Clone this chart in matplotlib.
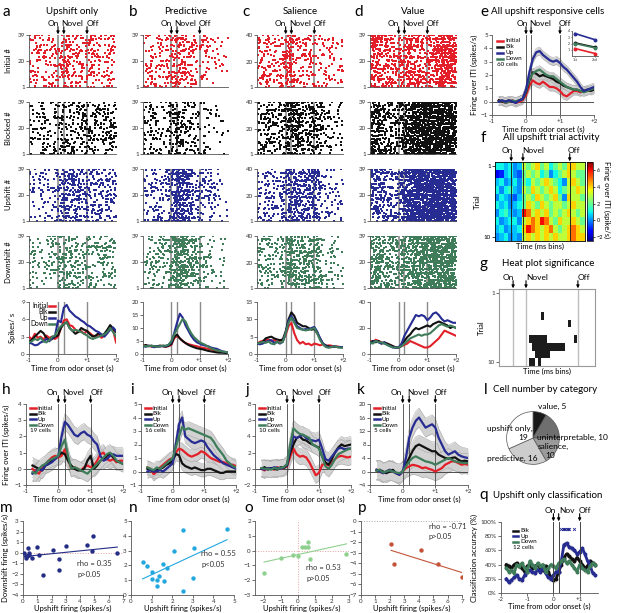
import numpy as np
import matplotlib
matplotlib.use('Agg')
import matplotlib.pyplot as plt
from matplotlib.colors import ListedColormap

plt.rcParams['font.family'] = ['Lato', 'DejaVu Sans']
plt.rcParams['axes.unicode_minus'] = True

W, H = 617, 613
RED, BLK, BLU, GRN = '#e3202a', '#111111', '#262c92', '#3e7c5a'

# ---------------- data ----------------
t_ad = np.round(np.arange(-1.0, 2.001, 0.1), 2)
t_eh = np.round(np.arange(-0.8, 2.001, 0.1), 2)
t_q = np.round(np.arange(-1.8, 1.601, 0.1), 2)

# panel a-d PSTH (spikes/s): initial, blocked, upshift, downshift
a_init = [3.0, 2.5, 3.5, 2.8, 3.0, 2.5, 3.2, 2.8, 3.0, 2.6, 3.0, 4.5, 5.8, 6.0, 5.0, 4.8, 4.2, 3.8, 4.0, 3.5, 4.0, 3.6, 3.2, 3.0, 3.4, 2.8, 3.2, 3.6, 4.8, 4.2, 2.0]
a_blk = [2.0, 2.5, 3.0, 3.5, 4.0, 3.6, 2.8, 2.4, 2.6, 3.0, 3.2, 4.5, 5.2, 5.5, 4.5, 4.0, 3.5, 3.8, 4.5, 4.2, 4.0, 3.4, 3.0, 3.2, 3.6, 3.2, 3.5, 4.2, 5.0, 4.4, 3.8]
a_up = [2.0, 1.8, 1.5, 1.6, 2.0, 2.2, 2.6, 2.2, 2.8, 3.2, 5.8, 5.5, 8.0, 8.5, 7.5, 7.0, 6.5, 6.2, 5.8, 5.5, 5.0, 4.8, 4.4, 4.0, 3.8, 3.4, 3.0, 3.6, 4.2, 4.6, 4.0]
a_down = [2.0, 2.2, 2.6, 2.4, 2.8, 2.2, 2.0, 2.4, 3.0, 3.2, 4.2, 4.8, 5.2, 5.5, 4.5, 4.0, 4.2, 4.0, 3.8, 3.5, 3.2, 2.8, 2.6, 2.8, 3.0, 3.2, 3.4, 3.8, 4.5, 3.8, 3.0]

b_init = [3.5, 3.0, 3.2, 2.8, 3.0, 2.8, 3.2, 3.0, 2.8, 3.0, 3.5, 6.0, 7.0, 6.0, 5.0, 4.2, 3.8, 3.5, 3.2, 3.0, 2.6, 2.4, 2.2, 2.0, 1.8, 1.5, 1.2, 1.0, 0.8, 0.6, 0.5]
b_blk = [3.0, 3.5, 3.0, 3.2, 2.8, 3.0, 3.2, 3.0, 2.8, 3.2, 3.8, 6.5, 7.5, 6.0, 5.0, 4.2, 3.5, 3.0, 2.6, 2.2, 2.0, 1.8, 1.5, 1.2, 1.0, 0.8, 0.6, 0.5, 0.5, 0.4, 0.4]
b_up = [3.0, 2.8, 3.2, 3.0, 2.6, 3.0, 2.8, 3.2, 3.0, 3.5, 4.5, 8.0, 12.0, 15.5, 14.0, 11.0, 9.0, 7.0, 5.5, 4.5, 4.0, 3.5, 3.2, 3.0, 2.5, 2.2, 2.0, 1.5, 1.0, 0.8, 0.5]
b_down = [3.2, 3.0, 3.0, 3.2, 3.0, 2.8, 3.0, 3.2, 3.2, 3.5, 5.0, 7.5, 9.5, 11.5, 13.5, 12.5, 10.0, 8.0, 6.5, 5.5, 4.5, 4.0, 3.5, 2.8, 2.2, 1.8, 1.4, 1.2, 1.0, 0.8, 0.6]

c_init = [3.0, 3.5, 3.8, 4.0, 4.2, 3.8, 4.0, 3.5, 3.8, 4.0, 5.5, 8.0, 9.0, 6.0, 4.0, 3.0, 3.5, 2.8, 3.0, 2.5, 3.0, 2.8, 2.5, 2.8, 2.2, 2.5, 2.4, 2.0, 2.2, 2.0, 2.0]
c_blk = [3.0, 3.2, 3.5, 4.5, 4.8, 5.0, 4.5, 4.2, 4.0, 4.2, 6.5, 10.0, 12.0, 11.0, 9.0, 8.5, 8.0, 8.0, 7.5, 7.0, 7.2, 6.0, 4.5, 3.0, 2.5, 2.2, 2.0, 2.2, 2.0, 2.0, 2.0]
c_up = [3.0, 2.8, 3.0, 3.5, 3.8, 4.0, 3.2, 3.5, 3.0, 3.5, 6.0, 9.5, 11.0, 9.5, 8.0, 7.5, 7.0, 7.2, 7.0, 7.5, 7.8, 6.5, 4.5, 3.0, 2.2, 2.0, 2.0, 2.2, 2.0, 2.0, 2.0]
c_down = [3.0, 3.2, 3.5, 3.2, 3.6, 3.0, 2.8, 3.5, 3.2, 3.5, 6.0, 9.0, 10.5, 9.0, 7.5, 7.2, 7.0, 6.8, 7.0, 7.2, 7.5, 6.0, 4.0, 2.8, 2.0, 1.8, 2.0, 2.2, 2.0, 1.8, 1.8]

d_init = [10, 9, 11, 10, 9, 8, 8, 7, 6, 5, 5, 6, 7, 8, 10, 9, 8, 7, 6, 5, 5, 6, 8, 10, 12, 15, 18, 17, 16, 15, 14]
d_blk = [9, 10, 9, 10, 8, 9, 8, 7, 6, 5, 5, 7, 10, 13, 15, 18, 20, 19, 20, 21, 22, 21, 23, 24, 25, 24, 23, 22, 20, 21, 20]
d_up = [8, 9, 10, 9, 8, 9, 7, 6, 5, 5, 5, 8, 14, 18, 22, 26, 30, 29, 30, 29, 26, 28, 31, 32, 30, 27, 25, 26, 25, 24, 24]
d_down = [9, 8, 10, 9, 9, 8, 7, 6, 5, 5, 5, 6, 8, 10, 12, 13, 14, 15, 14, 15, 15, 16, 18, 20, 22, 23, 22, 21, 22, 21, 20]

trials_ad = [39, 39, 40, 39]

# panel e (firing over ITI)
e_init = [0.1, 0.0, -0.1, 0.0, 0.1, -0.1, 0.0, 0.1, 0.5, 1.2, 1.6, 1.4, 1.3, 1.5, 1.3, 1.1, 1.1, 1.0, 0.8, 0.5, 0.4, 0.6, 0.8, 0.8, 0.7, 0.8, 0.8, 0.9, 0.9]
e_blk = [0.1, 0.0, 0.0, 0.1, 0.0, 0.0, 0.1, 0.2, 0.7, 1.6, 2.2, 2.1, 1.9, 2.0, 1.9, 1.8, 1.7, 1.5, 1.4, 1.2, 1.1, 1.0, 0.9, 0.9, 0.8, 0.8, 0.9, 0.8, 0.9]
e_up = [0.0, 0.1, 0.0, 0.1, 0.0, -0.1, 0.1, 0.2, 0.9, 2.2, 3.2, 3.7, 3.8, 3.5, 3.3, 3.1, 3.0, 3.1, 2.9, 2.6, 2.4, 2.1, 1.8, 1.5, 1.1, 0.8, 0.9, 1.0, 1.1]
e_down = [0.0, 0.1, -0.1, 0.0, 0.1, 0.0, 0.1, 0.2, 0.8, 1.7, 2.1, 2.3, 2.4, 2.2, 2.0, 1.9, 1.9, 1.7, 1.5, 1.3, 1.1, 1.0, 0.9, 0.9, 0.8, 0.7, 0.8, 0.9, 1.0]
inset_x = [1, 2]
inset_init = [1.2, 0.4]
inset_blk = [2.1, 1.4]
inset_up = [3.6, 2.6]
inset_down = [2.0, 1.3]

# panel f heat map (10 trials x 20 bins)
heat = [
    [1, 1, 0.5, 1, 0, 0.5, 3, 2, 3, 4, 2, 3, 1, 2, 3, 2, 4, 4, 3, 3],
    [-1.5, -1, 0.5, 1, 0, -0.5, 2, 3, 2, 3, 1, 2, 0, 1, 2, 3, 4, 3, 2, 2],
    [0.5, 1, 0, 0.5, 1, 0, 2, 1, 3, 2, 3, 4, 3, 2, 1, 0, 3, 4, 3, 2],
    [1, 0, 1, 1.5, 0.5, 0, 3, 2, 4, 3, 2, 3, 4, 3, 1, 2, 3, 3, 4, 3],
    [0, 1, 0.5, 0, -0.5, 0.5, 2, 3, 2, 4, 3, 2, 3, 4, 2, 0, 4, 3, 3, 2],
    [1, 0.5, 1, 0, 0.5, 1, 2, 4, 3, 2, 4, 3, 2, 3, 3, 2, 3, 4, 3, 3],
    [0, 1, 1.5, 0.5, 0, 0.5, 6, 5, 3, 4, 3, 4, 2, 3, 2, 3, 4, 3, 2, 3],
    [1, 0, 0.5, 1, 1, 0, 3, 4, 5, 4, 6, 5, 3, 2, 4, 3, 3, 4, 3, 2],
    [0.5, 1, 0, 0.5, 0.5, 1, 4, 6, 5, 4, 3, 4, 5, 3, 2, 3, 4, 5, 4, 3],
    [0, 0.5, 1, 0, 0.5, 0, 3, 4, 3, 4, 3, 4, 3, 4, 3, 3, 4, 5, 4, 4],
]
heat_events = [3.1, 5.7, 16.1]

# panel g significance: (trial index, bin index) of significant cells, 10 x 32 grid
sig_cells = [(3, 14), (4, 23), (6, 10), (6, 11), (6, 12), (6, 13), (6, 14), (6, 15), (6, 25),
             (7, 11), (7, 12), (7, 13), (7, 14), (7, 15), (7, 16), (7, 17), (7, 18), (7, 19), (7, 20), (7, 21),
             (8, 12), (8, 13), (8, 14), (8, 15), (8, 16), (9, 10), (9, 11), (9, 13)]
sig_events = [4.2, 8.5, 25.8]

# panels h-k
h_init = [0.0, -0.2, -0.3, 0.0, 0.3, 0.5, 0.7, 0.8, 0.7, 0.8, 1.2, 0.6, 0.0, 0.1, 0.0, -0.1, 0.1, 0.2, 0.1, 0.2, 0.5, 0.9, 1.0, 0.6, 0.5, 0.6, 0.4, 0.5, 0.5]
h_blk = [0.2, 0.1, 0.0, -0.1, 0.2, 0.3, 0.5, 0.6, 0.8, 1.0, 0.9, 0.5, 0.2, 0.0, -0.1, -0.1, 0.0, 0.5, 0.8, 0.0, 0.2, 0.5, 0.6, 0.8, 0.9, 0.7, 0.5, 0.4, 0.3]
h_up = [-0.3, -0.2, 0.0, -0.1, 0.2, 0.3, 0.4, 0.6, 0.8, 2.0, 2.9, 2.7, 2.4, 2.1, 2.0, 2.2, 2.3, 2.1, 2.0, 1.7, 1.5, 0.8, 0.5, 0.6, 0.8, 0.9, 0.8, 0.8, 0.8]
h_down = [-0.2, -0.3, 0.0, 0.2, 0.3, 0.5, 0.6, 0.7, 0.8, 1.4, 1.8, 0.8, 0.0, 0.1, 0.0, -0.1, -0.2, -0.3, -0.1, 0.1, 0.3, 0.5, 0.7, 0.9, 1.0, 0.8, 0.5, 0.4, 0.3]

i_init = [0.3, 0.2, -0.2, 0.0, 0.3, 0.5, 0.7, 0.9, 1.0, 1.4, 1.7, 1.6, 1.4, 1.2, 1.1, 1.2, 1.3, 1.5, 1.4, 1.2, 1.0, 0.9, 0.8, 0.7, 0.7, 0.6, 0.5, 0.5, 0.4]
i_blk = [0.2, 0.1, 0.0, 0.1, 0.2, 0.3, 0.5, 0.6, 0.8, 1.3, 1.2, 0.6, 0.4, 0.3, 0.2, 0.3, 0.2, 0.1, 0.1, 0.2, 0.2, 0.1, 0.0, -0.1, -0.1, 0.0, 0.0, 0.0, 0.0]
i_up = [0.0, 0.1, 0.0, 0.0, 0.1, 0.0, 0.2, 0.4, 0.6, 2.0, 3.5, 4.0, 2.6, 2.4, 2.2, 2.1, 2.2, 2.3, 2.2, 1.8, 1.5, 1.2, 1.0, 0.8, 0.6, 0.5, 0.4, 0.3, 0.2]
i_down = [0.3, 0.2, 0.1, 0.3, 0.2, 0.4, 0.6, 0.8, 1.0, 1.8, 2.6, 3.3, 3.1, 3.2, 3.1, 3.0, 2.9, 2.8, 2.7, 2.6, 2.5, 2.2, 1.8, 1.5, 1.2, 0.8, 0.6, 0.4, 0.3]

j_init = [0.0, -0.2, 0.1, 0.0, -0.1, 0.2, 0.0, 0.1, 0.3, 1.5, 2.5, 1.8, 1.5, 1.6, 1.4, 0.8, 0.0, -0.8, -0.5, 0.5, 0.6, 0.4, 0.8, 1.2, 1.5, 1.6, 1.5, 1.4, 1.5]
j_blk = [0.0, 0.2, -0.1, 0.1, 0.0, -0.1, 0.2, 0.1, 0.4, 2.0, 3.0, 3.8, 4.0, 3.6, 3.5, 3.2, 3.0, 2.8, 2.6, 1.5, 0.8, 0.5, 1.2, 2.0, 2.6, 3.0, 2.8, 2.9, 3.0]
j_up = [0.0, -0.1, 0.1, 0.0, 0.2, 0.1, 0.0, 0.2, 0.5, 2.5, 4.0, 3.8, 4.0, 4.2, 3.8, 3.6, 3.5, 3.4, 3.6, 2.5, 1.2, 1.0, 1.5, 2.0, 2.5, 2.6, 2.4, 2.5, 2.5]
j_down = [0.1, 0.0, 0.0, -0.1, 0.1, 0.0, 0.1, 0.2, 0.6, 3.0, 5.0, 4.6, 4.3, 4.2, 4.0, 3.8, 3.0, 2.8, 2.5, 1.5, 0.3, 0.0, 0.5, 1.2, 1.8, 2.0, 2.2, 2.4, 2.5]

k_init = [0.5, 0.0, -0.5, 0.0, 0.5, 0.0, -0.5, -1.0, 0.0, 1.0, 1.5, 2.0, 1.8, 1.5, 1.0, 1.2, 0.8, 0.5, 0.0, 0.5, 1.0, 2.0, 2.5, 3.0, 3.0, 2.5, 2.0, 2.2, 2.0]
k_blk = [0.3, 0.5, 0.0, -0.5, 0.0, 0.5, -0.5, -0.8, 0.0, 2.0, 4.0, 6.0, 7.5, 8.0, 7.5, 7.0, 6.5, 6.0, 6.0, 5.0, 4.5, 4.0, 3.8, 4.0, 4.2, 3.5, 3.0, 3.2, 3.0]
k_up = [0.5, 0.0, -0.5, 0.0, 0.5, 0.0, -0.5, -1.0, 0.0, 4.0, 10.0, 13.0, 15.0, 16.0, 14.5, 13.0, 13.5, 14.0, 13.0, 10.0, 8.0, 6.0, 5.0, 5.5, 6.0, 5.0, 4.5, 4.2, 4.0]
k_down = [0.2, 0.5, -0.3, 0.0, 0.3, 0.0, -0.3, -0.5, 0.0, 1.5, 3.0, 4.0, 4.5, 4.0, 3.5, 3.0, 2.8, 2.5, 2.0, 2.5, 3.0, 3.5, 4.0, 3.5, 3.0, 2.8, 2.6, 2.5, 2.5]

hk_sem = [0.5, 0.5, 1.0, 2.8]
hk_cells = [19, 16, 10, 5]

# panel l
pie_labels = ['value', 'uninterpretable', 'salience', 'predictive', 'upshift only']
pie_counts = [5, 10, 10, 16, 19]

# panels m-p (upshift firing, downshift firing)
m_x = [0.1, 0.2, 0.2, 0.3, 0.35, 0.4, 0.4, 0.6, 1.0, 1.1, 1.4, 2.1, 2.5, 2.5, 3.0, 4.5, 4.8, 4.9, 6.6]
m_y = [0.0, -0.5, -0.3, -0.3, 0.4, 0.0, -0.2, -0.5, 0.5, -0.2, -2.1, 0.3, -0.6, -1.6, 0.6, 0.7, 0.2, 1.6, 0.0]
n_x = [0.56, 0.8, 1.0, 1.0, 1.24, 1.27, 1.34, 1.53, 1.6, 1.73, 2.11, 2.5, 2.5, 3.08, 3.03, 4.66]
n_y = [2.2, 1.93, 1.58, 1.09, 0.64, 0.98, 1.31, 2.07, 0.93, 1.82, 2.98, 4.38, 0.27, 3.16, 1.13, 4.47]
o_x = [-1.97, -0.95, -0.3, 0.0, 0.25, 0.45, 0.6, 0.6, 0.7, 2.85]
o_y = [-1.5, -0.5, -0.3, -0.35, 0.25, 0.25, 0.55, 0.25, -0.55, -0.25]
p_x = [2.09, 2.32, 4.18, 5.36, 7.0]
p_y = [-2.21, -4.08, -2.74, -4.05, -5.3]

# panel q classification accuracy (%)
q_blk = [40, 38, 35, 40, 42, 38, 35, 30, 38, 40, 35, 38, 40, 35, 32, 38, 30, 22, 18, 20, 30, 40, 50, 55, 52, 48, 45, 50, 45, 40, 35, 38, 45, 42, 40]
q_up = [20, 15, 18, 22, 25, 20, 18, 25, 30, 32, 30, 28, 33, 30, 35, 28, 22, 20, 25, 30, 30, 45, 68, 70, 65, 63, 60, 55, 58, 63, 55, 45, 38, 28, 25]
q_down = [35, 30, 32, 28, 40, 38, 42, 35, 30, 45, 40, 35, 42, 38, 40, 30, 35, 40, 38, 35, 42, 45, 48, 42, 45, 40, 35, 30, 40, 35, 32, 30, 38, 42, 40]
q_sig = [0.3, 0.35, 0.4, 0.45, 0.5, 0.55, 0.6, 0.8]

events = [0.0, 0.2, 1.0]

# ---------------- helpers ----------------
fig = plt.figure(figsize=(W / 100, H / 100), dpi=100)


def box(l, t, r, b):
    return fig.add_axes([l / W, 1 - b / H, (r - l) / W, (b - t) / H])


def ftext(x, y, s, **kw):
    kw.setdefault('ha', 'center')
    kw.setdefault('va', 'center')
    fig.text(x / W, 1 - y / H, s, **kw)


def tidy(ax, fs=4.5):
    for s in ('top', 'right'):
        ax.spines[s].set_visible(False)
    for s in ('left', 'bottom'):
        ax.spines[s].set_linewidth(0.6)
        ax.spines[s].set_color('#555555')
    ax.tick_params(labelsize=fs, length=2, width=0.5, pad=1, colors='#333333')


def arrows(ax, xs, labels, label_xs, fs=6):
    for x in xs:
        ax.annotate('', xy=(x, 1.0), xycoords=('data', 'axes fraction'),
                    xytext=(0, 6), textcoords='offset points',
                    arrowprops=dict(arrowstyle='-|>', color='k', lw=0.8,
                                    mutation_scale=4, shrinkA=0, shrinkB=0.5))
    for lab, lx in zip(labels, label_xs):
        ax.annotate(lab, xy=(lx, 1.0), xycoords=('data', 'axes fraction'),
                    xytext=(0, 6), textcoords='offset points',
                    ha='center', va='bottom', fontsize=fs)


def scatter01(k, seed):
    # integer bit-mixing (splitmix style) -> deterministic spread in [0, 1)
    z = (k.astype(np.uint64) + np.uint64(seed) * np.uint64(0x9E3779B97F4A7C15))
    z = (z ^ (z >> np.uint64(30))) * np.uint64(0xBF58476D1CE4E5B9)
    z = (z ^ (z >> np.uint64(27))) * np.uint64(0x94D049BB133111EB)
    z = z ^ (z >> np.uint64(31))
    return (z >> np.uint64(11)).astype(np.float64) / 2.0 ** 53


def raster(ax, t, rate, ntr, color, seed):
    # dot density follows the PSTH of the same condition
    tf = np.linspace(t[0], t[-1], 601)
    rf = np.interp(tf, t, rate)
    cdf = np.concatenate([[0], np.cumsum((rf[1:] + rf[:-1]) / 2 * np.diff(tf))])
    n = int(round(cdf[-1] * ntr))
    k = np.arange(1, n + 1)
    u = scatter01(2 * k, seed)
    v = scatter01(2 * k + 1, seed)
    ts = np.interp(u * cdf[-1], cdf, tf)
    tr = 1 + np.floor(v * ntr)
    ax.scatter(ts, tr, s=0.7, marker='s', color=color, linewidths=0, zorder=2)


def legend_right(ax, items, x0, y0, dy):
    for i, (lab, col) in enumerate(items):
        y = y0 - i * dy
        ax.text(x0, y, lab, transform=ax.transAxes, ha='right', va='center', fontsize=4.8)
        ax.plot([x0 + 0.01, x0 + 0.08], [y, y], transform=ax.transAxes, color=col, lw=1.8, clip_on=False)


def legend_left(ax, items, x0, y0, dy, extra=None):
    for i, (lab, col) in enumerate(items):
        y = y0 - i * dy
        ax.plot([x0, x0 + 0.06], [y, y], transform=ax.transAxes, color=col, lw=1.8, clip_on=False)
        ax.text(x0 + 0.08, y, lab, transform=ax.transAxes, ha='left', va='center', fontsize=4.5)
    if extra:
        ax.text(x0, y0 - len(items) * dy, extra, transform=ax.transAxes, ha='left', va='center', fontsize=4.5)


# ---------------- panels a-d ----------------
cols_x = [(29, 116), (143, 228), (257, 343), (370, 456)]
rows_y = [(35, 87), (102, 154), (169, 221), (236, 288)]
titles = ['Upshift only', 'Predictive', 'Salience', 'Value']
letters = ['a', 'b', 'c', 'd']
letter_x = [6, 133, 246, 359]
psth = [(a_init, a_blk, a_up, a_down), (b_init, b_blk, b_up, b_down),
        (c_init, c_blk, c_up, c_down), (d_init, d_blk, d_up, d_down)]
psth_ylim = [(0, 9, [0, 3, 6, 9]), (0, 20, [0, 5, 10, 15, 20]), (0, 15, [0, 5, 10, 15]), (0, 40, [0, 20, 40])]
row_names = ['Initial #', 'Blocked #', 'Upshift #', 'Downshift #']
colors = [RED, BLK, BLU, GRN]

for ci, (l, r) in enumerate(cols_x):
    ntr = trials_ad[ci]
    ftext(letter_x[ci], 12, letters[ci], fontsize=11)
    ftext((l + r) / 2, 12, titles[ci], fontsize=7)
    for ri, (t0, b0) in enumerate(rows_y):
        ax = box(l, t0, r, b0)
        tidy(ax)
        raster(ax, t_ad, psth[ci][ri], ntr, colors[ri], seed=ci * 4 + ri + 1)
        for x in events:
            ax.axvline(x, color='#8a8a8a', lw=1.2, zorder=1)
        ax.set_xlim(-1, 2)
        ax.set_ylim(1, ntr)
        ax.set_yticks([1, 20, ntr])
        ax.set_xticks([])
        if ci == 0:
            ax.set_ylabel(row_names[ri], fontsize=5.5, labelpad=4)
        if ri == 0:
            arrows(ax, events, ['On', 'Novel', 'Off'], [-0.17, 0.5, 1.2])
    ax = box(l, 302, r, 354)
    tidy(ax)
    for x in events:
        ax.axvline(x, color='#8a8a8a', lw=1.0, zorder=1)
    for ser, col in zip(psth[ci], colors):
        ax.plot(t_ad, ser, color=col, lw=1.5, zorder=3)
    lo, hi, tk = psth_ylim[ci]
    ax.set_ylim(lo, hi)
    ax.set_yticks(tk)
    ax.set_xlim(-1, 2)
    ax.set_xticks([-1, 0, 1, 2])
    ax.set_xticklabels(['-1', '0', '+1', '+2'])
    ax.set_xlabel('Time from odor onset (s)', fontsize=5.5, labelpad=1.5)
    if ci == 0:
        ax.set_ylabel('Spikes/ s', fontsize=5.5, labelpad=4)
        legend_right(ax, [('Initial', RED), ('Blk', BLK), ('Up', BLU), ('Down', GRN)], 0.22, 0.93, 0.115)


# ---------------- panel e ----------------
ftext(484, 12, 'e', fontsize=11)
ftext(548, 12, 'All upshift responsive cells', fontsize=7)
ax = box(492, 35, 594, 115)
tidy(ax)
for ser, col in zip([e_init, e_blk, e_up, e_down], colors):
    s = np.array(ser)
    ax.fill_between(t_eh, s - 0.3, s + 0.3, color='#cfcfcf', lw=0, zorder=1)
    ax.plot(t_eh, s - 0.3, color='#9a9a9a', lw=0.3, zorder=1)
    ax.plot(t_eh, s + 0.3, color='#9a9a9a', lw=0.3, zorder=1)
for ser, col in zip([e_init, e_blk, e_down, e_up], [RED, BLK, GRN, BLU]):
    ax.plot(t_eh, ser, color=col, lw=1.6, zorder=3)
ax.axhline(0, color='#333333', lw=0.6, zorder=2)
for x in [0.0, 0.15, 1.0]:
    ax.axvline(x, color='#444444', lw=0.6, zorder=2)
ax.set_xlim(-1, 2)
ax.set_ylim(-1, 5)
ax.set_yticks(range(-1, 6))
ax.set_xticks([-1, 0, 1, 2])
ax.set_xticklabels(['-1', '0', '+1', '+2'])
ax.set_xlabel('Time from odor onset (s)', fontsize=5.5, labelpad=1.5)
ax.set_ylabel('Firing over ITI (spikes/s)', fontsize=5.5, labelpad=2)
arrows(ax, [0.0, 0.15, 1.0], ['On', 'Novel', 'Off'], [-0.1, 0.42, 1.15])
legend_left(ax, [('Initial', RED), ('Blk', BLK), ('Up', BLU), ('Down', GRN)], 0.05, 0.93, 0.075, '60 cells')

axi = box(572, 31, 598, 56)
for ser, col in zip([inset_up, inset_blk, inset_down, inset_init], [BLU, BLK, GRN, RED]):
    axi.plot(inset_x, ser, color=col, lw=1.2, marker='o', ms=1.8)
axi.set_xlim(0.85, 2.15)
axi.set_ylim(0, 4)
axi.set_yticks([1, 2, 3, 4])
axi.set_xticks([1, 2])
axi.set_xticklabels(['1st', '2nd'])
tidy(axi, fs=2.5)
axi.tick_params(length=1, pad=0.5)

# ---------------- panel f ----------------
ftext(483, 138, 'f', fontsize=11)
ftext(551, 138, 'All upshift trial activity', fontsize=7)
ax = box(495, 162, 585, 241)
im = ax.imshow(np.array(heat), cmap='jet', vmin=-2.5, vmax=7, aspect='auto', interpolation='nearest')
for x in heat_events:
    ax.axvline(x, color='#222222', lw=0.7)
ax.set_xticks([])
ax.set_yticks([0, 9])
ax.set_yticklabels(['1', '10'])
ax.tick_params(labelsize=4.5, length=2, width=0.5, pad=1)
for s in ax.spines.values():
    s.set_linewidth(0.6)
ax.set_ylabel('Trial', fontsize=5.5, labelpad=2)
ax.set_xlabel('Time (ms bins)', fontsize=5.5, labelpad=1.5)
arrows(ax, heat_events, ['On', 'Novel', 'Off'], [2.2, 7.9, 17.1])
cax = box(587, 162, 593, 241)
cb = fig.colorbar(im, cax=cax)
cb.set_ticks([-2, 0, 2, 4, 6])
cb.ax.tick_params(labelsize=4, length=1.5, width=0.5, pad=1)
cb.outline.set_linewidth(0.5)
ftext(607, 200, 'Firing over ITI (spike/s)', fontsize=5.5, rotation=270)

# ---------------- panel g ----------------
ftext(483, 264, 'g', fontsize=11)
ftext(548, 264, 'Heat plot significance', fontsize=7)
ax = box(499, 289, 595, 366)
grid = np.zeros((10, 32))
for rr, cc in sig_cells:
    grid[rr, cc] = 1
ax.imshow(grid, cmap=ListedColormap(['white', '#1c1c1c']), aspect='auto', interpolation='nearest')
for x in sig_events:
    ax.axvline(x, color='#bdbdbd', lw=1.0)
for s in ax.spines.values():
    s.set_color('#999999')
    s.set_linewidth(0.8)
ax.set_xticks([])
ax.set_yticks([0, 9])
ax.set_yticklabels(['1', '10'])
ax.tick_params(labelsize=4.5, length=2, width=0.5, pad=1, colors='#333333')
ax.set_ylabel('Trial', fontsize=5.5, labelpad=2)
ax.set_xlabel('Time (ms bins)', fontsize=5.5, labelpad=1.5)
arrows(ax, sig_events, ['On', 'Novel', 'Off'], [2.5, 12.2, 27.8])

# ---------------- panels h-k ----------------
hk_x = [(26, 123), (141, 236), (255, 351), (370, 468)]
hk_letters = ['h', 'i', 'j', 'k']
hk_letter_x = [6, 132, 247, 361]
hk_data = [(h_init, h_blk, h_up, h_down), (i_init, i_blk, i_up, i_down),
           (j_init, j_blk, j_up, j_down), (k_init, k_blk, k_up, k_down)]
hk_ylim = [(-1, 4, range(-1, 5)), (-1, 5, range(-1, 6)), (-2, 8, range(-2, 9, 2)), (-4, 20, range(-4, 21, 4))]
for hi, (l, r) in enumerate(hk_x):
    ftext(hk_letter_x[hi], 390, hk_letters[hi], fontsize=11)
    ax = box(l, 404, r, 485)
    tidy(ax)
    sem = hk_sem[hi]
    for ser in hk_data[hi]:
        s = np.array(ser)
        ax.fill_between(t_eh, s - sem, s + sem, color='#d2d2d2', lw=0, zorder=1)
        ax.plot(t_eh, s - sem, color='#9a9a9a', lw=0.3, zorder=1)
        ax.plot(t_eh, s + sem, color='#9a9a9a', lw=0.3, zorder=1)
    for ser, col in zip(hk_data[hi], colors):
        ax.plot(t_eh, ser, color=col, lw=1.6, zorder=3)
    ax.axhline(0, color='#333333', lw=0.6, zorder=2)
    for x in events:
        ax.axvline(x, color='#444444', lw=0.6, zorder=2)
    lo, hi_, tk = hk_ylim[hi]
    ax.set_ylim(lo, hi_)
    ax.set_yticks(list(tk))
    ax.set_xlim(-1, 2)
    ax.set_xticks([-1, 0, 1, 2])
    ax.set_xticklabels(['-1', '0', '+1', '+2'])
    ax.set_xlabel('Time from odor onset (s)', fontsize=5.5, labelpad=1.5)
    if hi == 0:
        ax.set_ylabel('Firing over ITI (spikes/s)', fontsize=5.5, labelpad=3)
    arrows(ax, events, ['On', 'Novel', 'Off'], [-0.18, 0.47, 1.18])
    legend_left(ax, [('Initial', RED), ('Blk', BLK), ('Up', BLU), ('Down', GRN)], 0.04, 0.95, 0.07,
                '%d cells' % hk_cells[hi])

# ---------------- panel l ----------------
ftext(486, 390, 'l', fontsize=11)
ftext(545, 390, 'Cell number by category', fontsize=7)
ax = box(500, 405, 566, 471)
ax.pie(pie_counts, startangle=90, counterclock=False,
       colors=['#1a1a1a', '#6f6f6f', '#9a9a9a', '#cdcdcd', '#ffffff'],
       wedgeprops=dict(edgecolor='#555555', linewidth=0.5))
ax.set_aspect('equal')
ftext(552, 406, '%s, %d' % (pie_labels[0], pie_counts[0]), fontsize=6)
ftext(537, 437, '%s, %d' % (pie_labels[1], pie_counts[1]), fontsize=6, ha='left')
ftext(553, 446, '%s,' % pie_labels[2], fontsize=6)
ftext(550, 456, '%d' % pie_counts[2], fontsize=6)
ftext(512, 458, '%s, %d' % (pie_labels[3], pie_counts[3]), fontsize=6)
ftext(510, 428, '%s,' % pie_labels[4], fontsize=6)
ftext(523, 438, '%d' % pie_counts[4], fontsize=6)

# ---------------- panels m-p ----------------
sc = [
    ('m', 6, (23, 123), m_x, m_y, '#232d85', (0, 7), (-4, 3), range(0, 8), range(-4, 4), 'rho = 0.35\np>0.05', (3.8, -1.55)),
    ('n', 133, (131, 234), n_x, n_y, '#22a7df', (0, 5), (0, 5), range(0, 6), range(0, 6), 'rho = 0.55\np<0.05', (3.4, 2.45)),
    ('o', 249, (255, 349), o_x, o_y, '#8fd08f', (-2.5, 3), (-3, 2), range(-2, 4), range(-3, 3), 'rho = 0.53\np>0.05', (0.5, -1.5)),
    ('p', 362, (361, 462), p_x, p_y, '#c4533a', (0, 7), (-7, 0), range(0, 8), range(-7, 1), 'rho = -0.71\np>0.05', (4.7, -1.0)),
]
for letter, lx, (l, r), xs, ys, col, xl, yl, xt, yt, txt, tpos in sc:
    ftext(lx, 508, letter, fontsize=11)
    ax = box(l, 521, r, 595)
    tidy(ax)
    if letter == 'p':
        ax.axhline(0, color='#aaaaaa', lw=0.7, ls=':')
    else:
        ax.axhline(0, color='#e8a0a0', lw=0.7, ls=':')
    if letter == 'o':
        ax.axvline(0, color='#e8a0a0', lw=0.7, ls=':')
    ax.scatter(xs, ys, s=10, color=col, linewidths=0, zorder=3)
    slope, icpt = np.polyfit(xs, ys, 1)
    fx = np.array([min(xs), max(xs)])
    ax.plot(fx, slope * fx + icpt, color=col, lw=0.8, zorder=2)
    ax.text(tpos[0], tpos[1], txt, fontsize=5.5, color='#333333', va='center', linespacing=1.6)
    ax.set_xlim(*xl)
    ax.set_ylim(*yl)
    ax.set_xticks(list(xt))
    ax.set_yticks(list(yt))
    ax.set_xlabel('Upshift firing (spikes/s)', fontsize=5.5, labelpad=0.5)
    if letter == 'm':
        ax.set_ylabel('Downshift firing (spikes/s)', fontsize=5.5, labelpad=2)

# ---------------- panel q ----------------
ftext(484, 495, 'q', fontsize=11)
ftext(548, 495, 'Upshift only classification', fontsize=7)
ax = box(501, 522, 598, 593)
tidy(ax)
for ser in [q_blk, q_up, q_down]:
    s = np.array(ser)
    ax.fill_between(t_q, s - 4, s + 4, color='#cccccc', lw=0, zorder=1)
for ser, col in zip([q_blk, q_up, q_down], [BLK, BLU, GRN]):
    ax.plot(t_q, ser, color=col, lw=2.0, marker='o', ms=2.8, mew=0, zorder=3)
for x in events:
    ax.axvline(x, color='#444444', lw=0.7, zorder=4)
ax.scatter(q_sig, [90] * len(q_sig), marker='x', s=4, color=BLU, linewidths=0.6, zorder=5)
ax.set_xlim(-2, 1.7)
ax.set_ylim(0, 100)
ax.set_yticks(range(0, 101, 20))
ax.set_yticklabels(['%d%%' % v for v in range(0, 101, 20)])
ax.set_xticks([-2, -1, 0, 1])
ax.set_xticklabels(['-2', '-1', '0', '+1'])
ax.set_xlabel('Time from odor onset (s)', fontsize=5.5, labelpad=0.5)
ax.set_ylabel('Classification accuracy (%)', fontsize=5.5, labelpad=2)
arrows(ax, events, ['On', 'Nov', 'Off'], [-0.12, 0.5, 1.2])
legend_left(ax, [('Blk', BLK), ('Up', BLU), ('Down', GRN)], 0.12, 0.88, 0.08, '12 cells')

fig.savefig('out.png', dpi=100)
